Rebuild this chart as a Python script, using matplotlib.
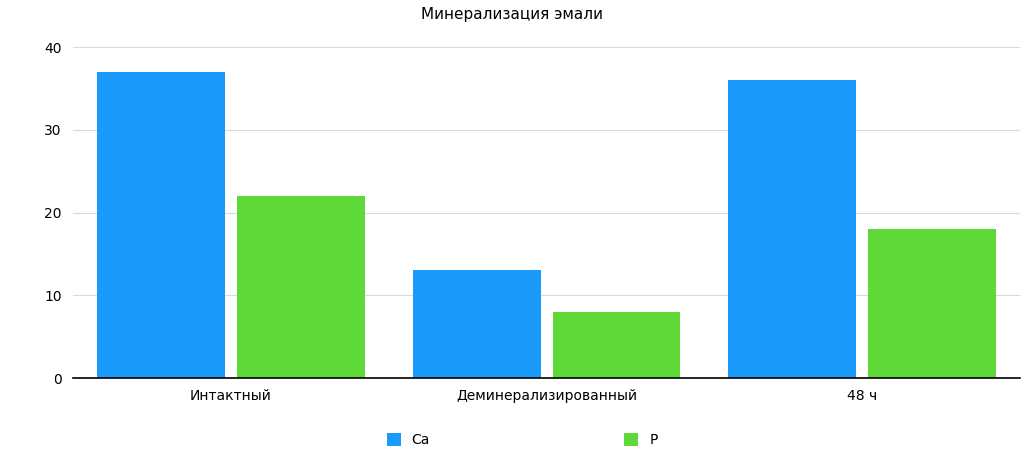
import numpy as np
import matplotlib
matplotlib.use("Agg")
import matplotlib.pyplot as plt

categories = ["Интактный", "Деминерализированный", "48 ч"]
ca_values = [37, 13, 36]
p_values = [22, 8, 18]
yticks = [0, 10, 20, 30, 40]

fig = plt.figure(figsize=(10.24, 4.74), dpi=100)
ax = fig.add_axes([0.0713, 0.2025, 0.925, 0.698])

x = np.arange(len(categories))
w = 0.405
gap = 0.038
ax.bar(x - (w + gap) / 2, ca_values, w, color="#1A9BFC", label="Ca", zorder=3)
ax.bar(x + (w + gap) / 2, p_values, w, color="#5ED937", label="P", zorder=3)

ax.set_xlim(-0.5, 2.5)
ax.set_ylim(0, 40)
ax.set_yticks(yticks)
ax.set_xticks(x)
ax.set_xticklabels(categories, fontsize=10)
ax.tick_params(length=0, labelsize=10, pad=8)
ax.grid(axis="y", color="#d9d9d9", lw=0.8, zorder=0)
for s in ["top", "right", "left"]:
    ax.spines[s].set_visible(False)
ax.spines["bottom"].set_color("black")
ax.spines["bottom"].set_linewidth(1.2)
ax.spines["bottom"].set_zorder(4)

fig.suptitle("Минерализация эмали", y=0.985, fontsize=11)
fig.legend(loc="lower center", bbox_to_anchor=(0.51, 0.03), ncol=2, frameon=False,
           fontsize=10, handlelength=1.0, handleheight=1.0, columnspacing=14)

fig.savefig("out.png", dpi=100)
